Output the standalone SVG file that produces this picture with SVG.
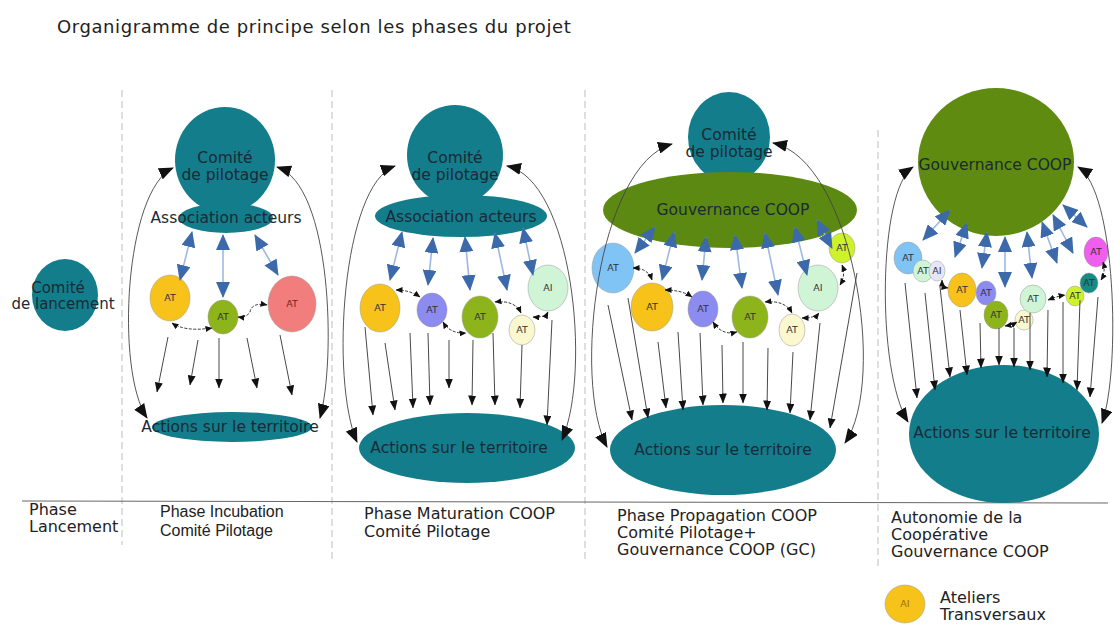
<svg xmlns="http://www.w3.org/2000/svg" width="1114" height="624" viewBox="0 0 1114 624">
<style>
text{font-family:"DejaVu Sans","Liberation Sans",sans-serif;fill:#1e1e1e}
.t{font-size:18px;letter-spacing:0.6px;fill:#222}
.lbl{font-size:16px;fill:#222}
.lbl2{font-family:"Liberation Sans",Arial,sans-serif;font-size:16px;fill:#222}
.nt{font-size:15.5px;fill:#1a2a36;text-anchor:middle}
.teal{fill:#137d8b}
.olive{fill:#5c8912}
.at{stroke:#999;stroke-width:0.5}
.att{font-size:9.5px;fill:#333;text-anchor:middle}
.sep{stroke:#bdbdbd;stroke-width:1;stroke-dasharray:7,4;fill:none}
.base{stroke:#666;stroke-width:1;fill:none}
.blue{stroke:#9db8e2;stroke-width:1.6;fill:none;marker-start:url(#bh);marker-end:url(#bh)}
.down{stroke:#333;stroke-width:0.9;fill:none;marker-end:url(#ah)}
.big{stroke:#444;stroke-width:0.9;fill:none;marker-start:url(#bk);marker-end:url(#bk)}
.lk{stroke:#222;stroke-width:0.9;stroke-dasharray:3,1.5;fill:none;marker-start:url(#sk);marker-end:url(#sk)}
</style>
<defs>
<marker id="bh" viewBox="0 0 16 14" refX="15" refY="7" markerWidth="16" markerHeight="14" markerUnits="userSpaceOnUse" orient="auto-start-reverse"><path d="M0,0 L16,7 L0,14 Z" fill="#3b69aa"/></marker>
<marker id="ah" viewBox="0 0 10 8" refX="9.5" refY="4" markerWidth="10" markerHeight="8" markerUnits="userSpaceOnUse" orient="auto"><path d="M0,0 L10,4 L0,8 Z" fill="#111"/></marker>
<marker id="bk" viewBox="0 0 15 12" refX="14" refY="6" markerWidth="15" markerHeight="12" markerUnits="userSpaceOnUse" orient="auto-start-reverse"><path d="M0,0 L15,6 L0,12 Z" fill="#111"/></marker>
<marker id="sk" viewBox="0 0 7 6" refX="6.5" refY="3" markerWidth="7" markerHeight="6" markerUnits="userSpaceOnUse" orient="auto-start-reverse"><path d="M0,0 L7,3 L0,6 Z" fill="#111"/></marker>
</defs>
<rect width="1114" height="624" fill="#fff"/>
<text class="t" x="57" y="33">Organigramme de principe selon les phases du projet</text>

<g id="separators">
<line class="sep" x1="122" y1="90" x2="122" y2="545"/>
<line class="sep" x1="332" y1="90" x2="332" y2="562"/>
<line class="sep" x1="585" y1="90" x2="585" y2="562"/>
<line class="sep" x1="878" y1="130" x2="878" y2="566"/>
<path class="base" d="M22,501 L1108,503"/>
</g>

<g id="labels">
<text class="lbl" x="29" y="515">Phase</text>
<text class="lbl" x="29" y="532">Lancement</text>
<text class="lbl2" x="160" y="517">Phase Incubation</text>
<text class="lbl2" x="160" y="536">Comité Pilotage</text>
<text class="lbl" x="364" y="519">Phase Maturation COOP</text>
<text class="lbl" x="364" y="537">Comité Pilotage</text>
<text class="lbl" x="617" y="521">Phase Propagation COOP</text>
<text class="lbl" x="617" y="538">Comité Pilotage+</text>
<text class="lbl" x="617" y="555">Gouvernance COOP (GC)</text>
<text class="lbl" x="891" y="523">Autonomie de la</text>
<text class="lbl" x="891" y="540">Coopérative</text>
<text class="lbl" x="891" y="557">Gouvernance COOP</text>
</g>

<!-- Phase 1 -->
<g id="comite-lancement">
<ellipse class="teal" cx="65" cy="295" rx="33" ry="36"/>
<text class="nt" x="58" y="293" style="font-size:15px">Comité</text>
<text class="nt" x="63" y="309" style="font-size:15px">de lancement</text>
</g>

<!-- Phase 2 -->
<g id="p2-comite">
<ellipse class="teal" cx="225" cy="160" rx="50" ry="53"/>
<text class="nt" x="225" y="163">Comité</text>
<text class="nt" x="225" y="180">de pilotage</text>
</g>
<g id="p2-association">
<ellipse class="teal" cx="226" cy="218" rx="47" ry="15"/>
<text class="nt" x="226" y="223">Association acteurs</text>
</g>
<g id="p2-at1"><ellipse class="at" cx="170" cy="298" rx="20" ry="23" fill="#f7c21a"/><text class="att" x="170" y="301">AT</text></g>
<g id="p2-at2"><ellipse class="at" cx="223" cy="317" rx="15" ry="17" fill="#8db51b"/><text class="att" x="223" y="320">AT</text></g>
<g id="p2-at3"><ellipse class="at" cx="292" cy="304" rx="24" ry="28" fill="#f27d7d"/><text class="att" x="292" y="307" style="fill:#7a2020">AT</text></g>
<g id="p2-actions">
<ellipse class="teal" cx="232" cy="427" rx="80" ry="15"/>
<text class="nt" x="230" y="432">Actions sur le territoire</text>
</g>

<!-- Phase 3 -->
<g id="p3-comite">
<ellipse class="teal" cx="455" cy="155" rx="48" ry="50"/>
<text class="nt" x="455" y="163">Comité</text>
<text class="nt" x="455" y="180">de pilotage</text>
</g>
<g id="p3-association">
<ellipse class="teal" cx="461" cy="216" rx="86" ry="21"/>
<text class="nt" x="461" y="222">Association acteurs</text>
</g>
<g id="p3-at1"><ellipse class="at" cx="380" cy="308" rx="20" ry="24" fill="#f7c21a"/><text class="att" x="380" y="311">AT</text></g>
<g id="p3-at2"><ellipse class="at" cx="432" cy="310" rx="15" ry="17" fill="#8b8bf0"/><text class="att" x="432" y="313">AT</text></g>
<g id="p3-at3"><ellipse class="at" cx="480" cy="317" rx="18" ry="21" fill="#8db51b"/><text class="att" x="480" y="320">AT</text></g>
<g id="p3-at4"><ellipse class="at" cx="522" cy="330" rx="13" ry="15" fill="#fbf8cf"/><text class="att" x="522" y="333">AT</text></g>
<g id="p3-at5"><ellipse class="at" cx="548" cy="288" rx="20" ry="23" fill="#d0f5d6"/><text class="att" x="548" y="291">AI</text></g>
<g id="p3-actions">
<ellipse class="teal" cx="467" cy="448" rx="108" ry="35"/>
<text class="nt" x="459" y="453">Actions sur le territoire</text>
</g>

<!-- Phase 4 -->
<g id="p4-comite">
<ellipse class="teal" cx="729" cy="137" rx="41" ry="45"/>
<text class="nt" x="729" y="140">Comité</text>
<text class="nt" x="729" y="157">de pilotage</text>
</g>
<g id="p4-gouvernance">
<ellipse class="olive" cx="730" cy="210" rx="127" ry="38"/>
<text class="nt" x="733" y="215">Gouvernance COOP</text>
</g>
<g id="p4-at1"><ellipse class="at" cx="613" cy="268" rx="21" ry="25" fill="#80c4f5"/><text class="att" x="613" y="271">AT</text></g>
<g id="p4-at2"><ellipse class="at" cx="652" cy="307" rx="21" ry="24" fill="#f7c21a"/><text class="att" x="652" y="310">AT</text></g>
<g id="p4-at3"><ellipse class="at" cx="703" cy="309" rx="15" ry="18" fill="#8b8bf0"/><text class="att" x="703" y="312">AT</text></g>
<g id="p4-at4"><ellipse class="at" cx="750" cy="317" rx="18" ry="21" fill="#8db51b"/><text class="att" x="750" y="320">AT</text></g>
<g id="p4-at5"><ellipse class="at" cx="792" cy="330" rx="13" ry="16" fill="#fbf8cf"/><text class="att" x="792" y="333">AT</text></g>
<g id="p4-at6"><ellipse class="at" cx="818" cy="288" rx="20" ry="23" fill="#d0f5d6"/><text class="att" x="818" y="291">AI</text></g>
<g id="p4-at7"><ellipse class="at" cx="842" cy="248" rx="13" ry="15" fill="#cdf22a"/><text class="att" x="842" y="251">AT</text></g>
<g id="p4-actions">
<ellipse class="teal" cx="723" cy="450" rx="113" ry="45"/>
<text class="nt" x="723" y="455">Actions sur le territoire</text>
</g>

<!-- Phase 5 -->
<g id="p5-gouvernance">
<ellipse class="olive" cx="996" cy="162" rx="78" ry="74" style="fill:#5e8b10"/>
<text class="nt" x="995" y="170">Gouvernance COOP</text>
</g>
<g id="p5-at1"><ellipse class="at" cx="908" cy="258" rx="14" ry="16" fill="#80c4f5"/><text class="att" x="908" y="261">AT</text></g>
<g id="p5-at2"><ellipse class="at" cx="923" cy="271" rx="10" ry="11" fill="#d0f5d6"/><text class="att" x="923" y="274">AT</text></g>
<g id="p5-at3"><ellipse class="at" cx="937" cy="271" rx="8" ry="10" fill="#e6e6fa"/><text class="att" x="937" y="274">AI</text></g>
<g id="p5-at4"><ellipse class="at" cx="962" cy="290" rx="14" ry="17" fill="#f7c21a"/><text class="att" x="962" y="293">AT</text></g>
<g id="p5-at5"><ellipse class="at" cx="986" cy="293" rx="10" ry="12" fill="#8b8bf0"/><text class="att" x="986" y="296">AT</text></g>
<g id="p5-at6"><ellipse class="at" cx="996" cy="315" rx="12" ry="14" fill="#8db51b"/><text class="att" x="996" y="318">AT</text></g>
<g id="p5-at7"><ellipse class="at" cx="1024" cy="320" rx="9" ry="10" fill="#fbf8cf"/><text class="att" x="1024" y="323">AT</text></g>
<g id="p5-at8"><ellipse class="at" cx="1033" cy="299" rx="13" ry="14" fill="#d0f5d6"/><text class="att" x="1033" y="302">AT</text></g>
<g id="p5-at9"><ellipse class="at" cx="1075" cy="296" rx="9" ry="10" fill="#cdf22a"/><text class="att" x="1075" y="299">AT</text></g>
<g id="p5-at10"><ellipse class="at" cx="1089" cy="283" rx="9" ry="10" fill="#138b86"/><text class="att" x="1089" y="286">AT</text></g>
<g id="p5-at11"><ellipse class="at" cx="1096" cy="252" rx="12" ry="15" fill="#f05ef0"/><text class="att" x="1096" y="255">AT</text></g>
<g id="p5-actions">
<ellipse class="teal" cx="1004" cy="434" rx="95" ry="69"/>
<text class="nt" x="1002" y="438">Actions sur le territoire</text>
</g>

<g id="legend">
<ellipse class="at" cx="905" cy="604" rx="20" ry="19" fill="#f7c21a"/>
<text class="att" x="905" y="607" style="fill:#a07010">AI</text>
<text class="lbl" x="940" y="603">Ateliers</text>
<text class="lbl" x="940" y="620">Transversaux</text>
</g>

<g id="connectors">
<!-- phase 2 -->
<path class="blue" d="M192,232 L180,280"/>
<path class="blue" d="M223,235 L223,297"/>
<path class="blue" d="M255,235 L278,275"/>
<path class="down" d="M168,337 L157,392"/>
<path class="down" d="M198,340 L190,385"/>
<path class="down" d="M219,338 L219,388"/>
<path class="down" d="M247,338 L257,388"/>
<path class="down" d="M280,335 L292,395"/>
<path class="lk" d="M172,323 Q185,332 212,328"/>
<path class="lk" d="M267,305 Q252,302 250,312 Q246,318 238,317"/>
<path class="big" d="M173,168 C125,190 115,370 147,418"/>
<path class="big" d="M277,167 C332,185 336,360 320,418"/>
<!-- phase 3 -->
<path class="blue" d="M402,232 L390,280"/>
<path class="blue" d="M433,238 L428,285"/>
<path class="blue" d="M465,237 L470,290"/>
<path class="blue" d="M495,233 L507,290"/>
<path class="blue" d="M523,228 L533,275"/>
<path class="down" d="M365,327 L373,415"/>
<path class="down" d="M385,343 L395,410"/>
<path class="down" d="M410,333 L413,408"/>
<path class="down" d="M428,333 L430,405"/>
<path class="down" d="M449,340 L449,388"/>
<path class="down" d="M473,340 L472,405"/>
<path class="down" d="M493,333 L495,405"/>
<path class="down" d="M522,345 L520,408"/>
<path class="down" d="M552,320 L547,425"/>
<path class="lk" d="M396,290 Q410,290 420,297"/>
<path class="lk" d="M443,322 Q450,334 466,333"/>
<path class="lk" d="M495,302 Q515,300 521,313"/>
<path class="lk" d="M533,317 Q545,318 548,312"/>
<path class="big" d="M395,166 C342,185 330,380 357,442"/>
<path class="big" d="M507,166 C572,180 592,370 562,440"/>
<!-- phase 4 -->
<path class="blue" d="M655,227 L635,253"/>
<path class="blue" d="M674,232 L662,280"/>
<path class="blue" d="M706,237 L702,280"/>
<path class="blue" d="M735,235 L742,288"/>
<path class="blue" d="M765,233 L778,295"/>
<path class="blue" d="M795,227 L807,275"/>
<path class="blue" d="M817,220 L832,248"/>
<path class="down" d="M608,305 L632,420"/>
<path class="down" d="M628,298 L648,418"/>
<path class="down" d="M658,342 L666,408"/>
<path class="down" d="M678,332 L683,410"/>
<path class="down" d="M700,333 L703,405"/>
<path class="down" d="M722,345 L723,403"/>
<path class="down" d="M743,342 L743,403"/>
<path class="down" d="M768,348 L767,410"/>
<path class="down" d="M793,352 L790,413"/>
<path class="down" d="M820,323 L810,420"/>
<path class="down" d="M857,273 L830,428"/>
<path class="lk" d="M633,268 Q648,268 652,280"/>
<path class="lk" d="M665,290 Q682,290 692,297"/>
<path class="lk" d="M713,322 Q722,336 737,332"/>
<path class="lk" d="M765,302 Q785,300 792,313"/>
<path class="lk" d="M802,318 Q815,318 819,313"/>
<path class="lk" d="M840,285 Q846,275 842,265"/>
<path class="big" d="M672,144 C598,165 572,380 607,447"/>
<path class="big" d="M773,143 C852,160 888,380 845,443"/>
<!-- phase 5 -->
<path class="blue" d="M950,210 L923,240"/>
<path class="blue" d="M967,223 L955,257"/>
<path class="blue" d="M987,232 L982,268"/>
<path class="blue" d="M1005,237 L1005,287"/>
<path class="blue" d="M1027,232 L1032,278"/>
<path class="blue" d="M1042,222 L1057,263"/>
<path class="blue" d="M1053,215 L1073,253"/>
<path class="blue" d="M1063,205 L1087,227"/>
<path class="down" d="M905,283 L917,398"/>
<path class="down" d="M925,293 L935,390"/>
<path class="down" d="M940,287 L950,377"/>
<path class="down" d="M960,310 L967,375"/>
<path class="down" d="M980,323 L981,368"/>
<path class="down" d="M999,328 L999,365"/>
<path class="down" d="M1014,328 L1014,367"/>
<path class="down" d="M1030,313 L1030,370"/>
<path class="down" d="M1048,310 L1047,377"/>
<path class="down" d="M1063,302 L1063,383"/>
<path class="down" d="M1080,300 L1077,390"/>
<path class="down" d="M1098,297 L1090,397"/>
<path class="lk" d="M942,280 Q942,287 948,288"/>
<path class="lk" d="M1005,326 Q1012,325 1017,322"/>
<path class="lk" d="M1048,300 Q1058,296 1065,295"/>
<path class="lk" d="M1101,280 Q1106,272 1103,262"/>
<path class="big" d="M913,167 C878,190 876,370 908,422"/>
<path class="big" d="M1078,167 C1116,190 1121,370 1102,423"/>
</g>
</svg>
